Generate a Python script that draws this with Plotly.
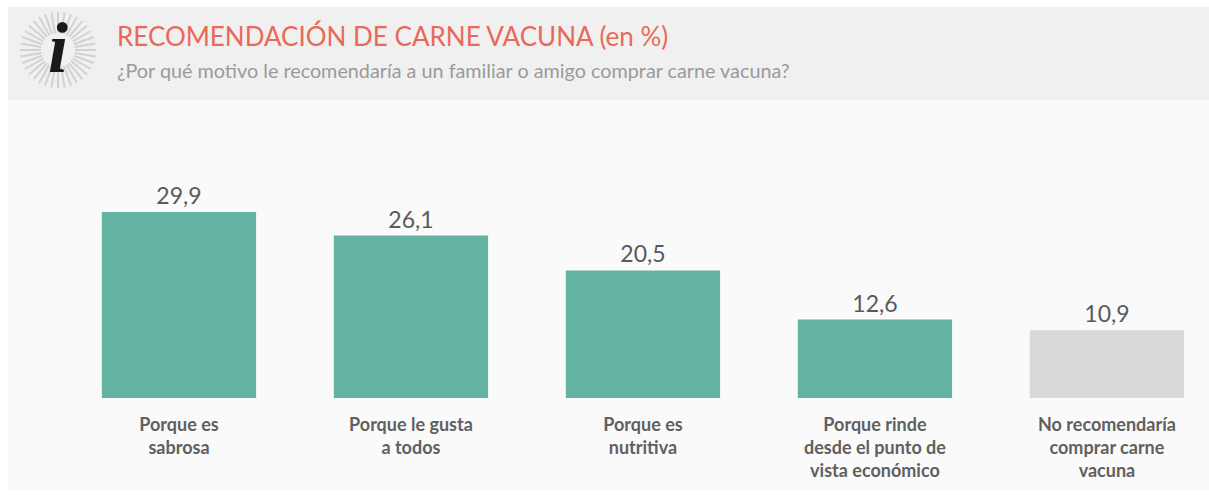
import math
import plotly.graph_objects as go

categories = ["Porque es<br>sabrosa", "Porque le gusta<br>a todos", "Porque es<br>nutritiva",
              "Porque rinde<br>desde el punto de<br>vista económico", "No recomendaría<br>comprar carne<br>vacuna"]
values = [29.9, 26.1, 20.5, 12.6, 10.9]
colors = ["#62b3a2", "#62b3a2", "#62b3a2", "#62b3a2", "#d9d9d9"]
title = "RECOMENDACIÓN DE CARNE VACUNA (en %)"
subtitle = "¿Por qué motivo le recomendaría a un familiar o amigo comprar carne vacuna?"

W, H = 1209, 495
px = lambda x: x / W
py = lambda y: 1 - y / H

fig = go.Figure(go.Bar(
    x=list(range(5)), y=values, width=0.665, marker=dict(color=colors, line_width=0),
    text=values, texttemplate="%{y:.1f}", textposition="outside", cliponaxis=False,
    textfont=dict(family="Lato", size=23, color="#595959"), hoverinfo="skip"))

shapes = [
    dict(type="rect", xref="paper", yref="paper", x0=px(8), x1=1, y0=py(100), y1=py(7),
         fillcolor="#f0f0f0", line_width=0, layer="below"),
    dict(type="rect", xref="paper", yref="paper", x0=px(8), x1=1, y0=py(490), y1=py(100),
         fillcolor="#fafafa", line_width=0, layer="below"),
]
cx, cy = 58, 50
for k in range(36):
    a = 2 * math.pi * k / 36
    shapes.append(dict(type="line", xref="paper", yref="paper",
                       x0=px(cx + 17 * math.cos(a)), y0=py(cy + 17 * math.sin(a)),
                       x1=px(cx + 38 * math.cos(a)), y1=py(cy + 38 * math.sin(a)),
                       line=dict(color="#d2d2d2", width=2), layer="below"))

annotations = [
    dict(text="<b><i>i</i></b>", xref="paper", yref="paper", x=px(58), y=py(48), showarrow=False,
         xanchor="center", yanchor="middle", font=dict(family="Liberation Serif", size=72, color="#1a1a1a")),
    dict(text=title, xref="paper", yref="paper", x=px(115), y=py(36), showarrow=False,
         xanchor="left", yanchor="middle", font=dict(family="Lato", size=26, color="#e8695a")),
    dict(text=subtitle, xref="paper", yref="paper", x=px(115), y=py(70), showarrow=False,
         xanchor="left", yanchor="middle", font=dict(family="Lato", size=19.8, color="#9a9a9a")),
]

fig.update_layout(
    width=W, height=H, margin=dict(l=0, r=0, t=0, b=0), paper_bgcolor="white", plot_bgcolor="rgba(0,0,0,0)",
    separators=",.", showlegend=False, shapes=shapes, annotations=annotations,
    xaxis=dict(domain=[px(8), 1], range=[-0.737, 4.44], tickmode="array", tickvals=list(range(5)),
               ticktext=categories, showgrid=False, zeroline=False, showline=False,
               ticks="outside", ticklen=10, tickcolor="rgba(0,0,0,0)",
               tickfont=dict(family="Lato", size=18, color="#606060", weight="bold")),
    yaxis=dict(domain=[py(398), py(100)], range=[0, 47.9], visible=False),
)
fig.write_html("out.html", post_script="document.body.style.margin='0';", config={"displayModeBar": False})
